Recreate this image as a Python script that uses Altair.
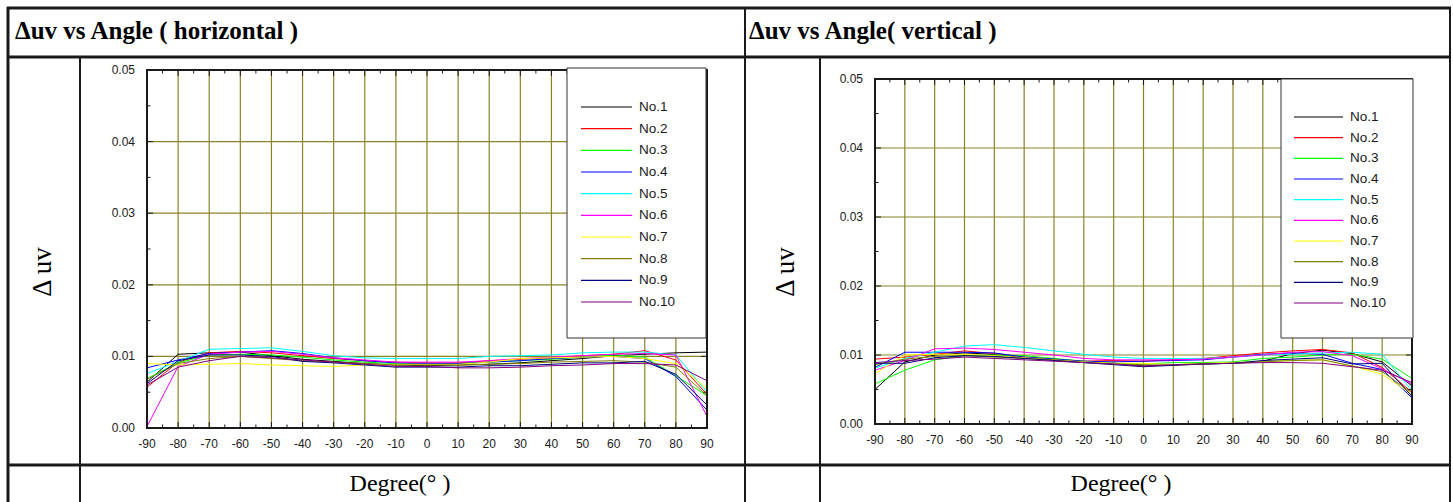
import altair as alt
import pandas as pd

# ---------------- data ----------------
angles = list(range(-90, 91, 10))
minor_angles = list(range(-85, 90, 10))
series_names = ["No.1", "No.2", "No.3", "No.4", "No.5",
                "No.6", "No.7", "No.8", "No.9", "No.10"]
series_colors = ["#000000", "#ff0000", "#00ff00", "#0000ff", "#00ffff",
                 "#ff00ff", "#ffff00", "#808000", "#000080", "#800080"]
y_tick_labels = [0.0, 0.01, 0.02, 0.03, 0.04, 0.05]
y_grid_values = [0.01, 0.02, 0.03, 0.04]
minor_duv = [0.005, 0.015, 0.025, 0.035, 0.045]

# horizontal panel (angles -90 .. 90 step 10)
h_no1 = [0.0064, 0.0103, 0.0105, 0.0106, 0.0101, 0.0096, 0.0093, 0.0090, 0.0088, 0.0087, 0.0088, 0.0089, 0.0091, 0.0094, 0.0097, 0.0101, 0.0103, 0.0105, 0.0106]
h_no2 = [0.0057, 0.0092, 0.0105, 0.0107, 0.0105, 0.0101, 0.0097, 0.0094, 0.0092, 0.0091, 0.0091, 0.0094, 0.0096, 0.0098, 0.0101, 0.0103, 0.0108, 0.0095, 0.0047]
h_no3 = [0.0069, 0.0091, 0.0102, 0.0103, 0.0102, 0.0099, 0.0095, 0.0092, 0.0090, 0.0090, 0.0090, 0.0092, 0.0094, 0.0096, 0.0099, 0.0102, 0.0099, 0.0073, 0.0045]
h_no4 = [0.0084, 0.0095, 0.0104, 0.0106, 0.0108, 0.0104, 0.0098, 0.0094, 0.0091, 0.0090, 0.0090, 0.0092, 0.0094, 0.0097, 0.0099, 0.0100, 0.0097, 0.0072, 0.0025]
h_no5 = [0.0076, 0.0093, 0.0110, 0.0111, 0.0112, 0.0107, 0.0101, 0.0098, 0.0097, 0.0097, 0.0097, 0.0100, 0.0101, 0.0102, 0.0105, 0.0106, 0.0106, 0.0102, 0.0050]
h_no6 = [0.0002, 0.0086, 0.0103, 0.0106, 0.0107, 0.0103, 0.0098, 0.0095, 0.0092, 0.0092, 0.0092, 0.0094, 0.0097, 0.0099, 0.0101, 0.0103, 0.0104, 0.0102, 0.0016]
h_no7 = [0.0090, 0.0088, 0.0089, 0.0090, 0.0088, 0.0087, 0.0086, 0.0088, 0.0089, 0.0089, 0.0089, 0.0092, 0.0097, 0.0098, 0.0099, 0.0100, 0.0097, 0.0090, 0.0055]
h_no8 = [0.0068, 0.0090, 0.0097, 0.0100, 0.0097, 0.0094, 0.0092, 0.0090, 0.0088, 0.0088, 0.0088, 0.0089, 0.0090, 0.0092, 0.0093, 0.0094, 0.0092, 0.0085, 0.0045]
h_no9 = [0.0062, 0.0094, 0.0102, 0.0102, 0.0100, 0.0093, 0.0091, 0.0088, 0.0085, 0.0085, 0.0085, 0.0087, 0.0087, 0.0089, 0.0091, 0.0091, 0.0093, 0.0075, 0.0032]
h_no10 = [0.0060, 0.0085, 0.0094, 0.0100, 0.0098, 0.0095, 0.0092, 0.0089, 0.0086, 0.0086, 0.0084, 0.0084, 0.0085, 0.0087, 0.0088, 0.0090, 0.0090, 0.0088, 0.0066]

# vertical panel
v_no1 = [0.0050, 0.0090, 0.0100, 0.0103, 0.0101, 0.0096, 0.0094, 0.0090, 0.0088, 0.0084, 0.0086, 0.0087, 0.0088, 0.0091, 0.0102, 0.0107, 0.0102, 0.0090, 0.0055]
v_no2 = [0.0094, 0.0097, 0.0101, 0.0106, 0.0102, 0.0097, 0.0094, 0.0091, 0.0092, 0.0091, 0.0093, 0.0095, 0.0099, 0.0103, 0.0106, 0.0108, 0.0103, 0.0082, 0.0046]
v_no3 = [0.0058, 0.0078, 0.0093, 0.0099, 0.0100, 0.0099, 0.0095, 0.0091, 0.0088, 0.0087, 0.0089, 0.0089, 0.0090, 0.0095, 0.0097, 0.0100, 0.0101, 0.0094, 0.0066]
v_no4 = [0.0082, 0.0104, 0.0104, 0.0104, 0.0103, 0.0097, 0.0094, 0.0091, 0.0090, 0.0091, 0.0092, 0.0093, 0.0097, 0.0101, 0.0103, 0.0101, 0.0088, 0.0079, 0.0038]
v_no5 = [0.0081, 0.0095, 0.0104, 0.0113, 0.0115, 0.0111, 0.0106, 0.0101, 0.0097, 0.0095, 0.0095, 0.0095, 0.0097, 0.0100, 0.0101, 0.0103, 0.0104, 0.0101, 0.0048]
v_no6 = [0.0078, 0.0092, 0.0109, 0.0110, 0.0108, 0.0104, 0.0100, 0.0095, 0.0093, 0.0093, 0.0093, 0.0094, 0.0097, 0.0100, 0.0104, 0.0105, 0.0099, 0.0080, 0.0058]
v_no7 = [0.0073, 0.0100, 0.0101, 0.0101, 0.0099, 0.0096, 0.0093, 0.0090, 0.0088, 0.0088, 0.0086, 0.0088, 0.0089, 0.0091, 0.0092, 0.0093, 0.0084, 0.0072, 0.0043]
v_no8 = [0.0086, 0.0094, 0.0098, 0.0099, 0.0097, 0.0095, 0.0093, 0.0089, 0.0087, 0.0086, 0.0085, 0.0087, 0.0088, 0.0090, 0.0092, 0.0093, 0.0084, 0.0076, 0.0045]
v_no9 = [0.0088, 0.0088, 0.0096, 0.0099, 0.0098, 0.0095, 0.0092, 0.0089, 0.0086, 0.0083, 0.0085, 0.0087, 0.0088, 0.0092, 0.0094, 0.0096, 0.0087, 0.0088, 0.0040]
v_no10 = [0.0089, 0.0092, 0.0094, 0.0097, 0.0095, 0.0093, 0.0091, 0.0089, 0.0087, 0.0084, 0.0086, 0.0087, 0.0088, 0.0089, 0.0089, 0.0088, 0.0083, 0.0078, 0.0060]

horizontal_series = [h_no1, h_no2, h_no3, h_no4, h_no5, h_no6, h_no7, h_no8, h_no9, h_no10]
vertical_series = [v_no1, v_no2, v_no3, v_no4, v_no5, v_no6, v_no7, v_no8, v_no9, v_no10]

title_left = "Δuv vs Angle ( horizontal )"
title_right = "Δuv vs Angle( vertical )"
y_label = "Δ uv"
x_label = "Degree(°  )"

# ---------------- styling / layout ----------------
W, H = 1453, 502
SERIF = "Liberation Serif"
SANS = "Liberation Sans"
GRID = "#8a8426"
INK = "#1a1a1a"

one = pd.DataFrame({"k": [0]})
color_scale = alt.Scale(domain=series_names, range=series_colors)


def hline(y, x1, x2, w):
    return alt.Chart(one).mark_rule(color=INK, strokeWidth=w).encode(
        x=alt.value(x1), x2=alt.value(x2), y=alt.value(y))


def vline(x, y1, y2, w):
    return alt.Chart(one).mark_rule(color=INK, strokeWidth=w).encode(
        x=alt.value(x), y=alt.value(y1), y2=alt.value(y2))


def label(text, x, y, size, weight="normal", align="left", angle=0):
    return alt.Chart(one).mark_text(
        text=text, font=SERIF, fontSize=size, fontWeight=weight,
        align=align, baseline="middle", angle=angle, color="#000"
    ).encode(x=alt.value(x), y=alt.value(y))


def panel(series_lists, xr, yr):
    rows = [{"angle": a, "duv": v, "series": n}
            for n, vals in zip(series_names, series_lists)
            for a, v in zip(angles, vals)]
    df = pd.DataFrame(rows)
    xs = alt.Scale(domain=[-90, 90], range=list(xr), nice=False, zero=False)
    ys = alt.Scale(domain=[0, 0.05], range=list(yr), nice=False, zero=False)
    deg_px = (xr[1] - xr[0]) / 180.0
    val_px = (yr[0] - yr[1]) / 0.05

    def X(f):
        return alt.X(f, type="quantitative", scale=xs, axis=None)

    def Y(f):
        return alt.Y(f, type="quantitative", scale=ys, axis=None)

    vg = pd.DataFrame({"angle": angles[1:-1]})
    vg["lo"] = 0.0
    vg["hi"] = 0.05
    vgrid = alt.Chart(vg).mark_rule(color=GRID, strokeWidth=1.2).encode(
        x=X("angle"), y=Y("lo"), y2="hi")

    hg = pd.DataFrame({"duv": y_grid_values})
    hg["lo"] = -90
    hg["hi"] = 90
    hgrid = alt.Chart(hg).mark_rule(color=GRID, strokeWidth=1.2).encode(
        x=X("lo"), x2="hi", y=Y("duv"))

    major, minor = 6.0, 3.5
    xt = []
    for a in angles:
        xt.append((a, 0.0, major / val_px))
        xt.append((a, 0.05, 0.05 - major / val_px))
    for a in minor_angles:
        xt.append((a, 0.0, minor / val_px))
        xt.append((a, 0.05, 0.05 - minor / val_px))
    xt_df = pd.DataFrame(xt, columns=["angle", "lo", "hi"])
    xticks = alt.Chart(xt_df).mark_rule(color=INK, strokeWidth=1).encode(
        x=X("angle"), y=Y("lo"), y2="hi")

    yt = []
    for d in y_tick_labels:
        yt.append((d, -90.0, -90.0 + major / deg_px))
        yt.append((d, 90.0, 90.0 - major / deg_px))
    for d in minor_duv:
        yt.append((d, -90.0, -90.0 + minor / deg_px))
        yt.append((d, 90.0, 90.0 - minor / deg_px))
    yt_df = pd.DataFrame(yt, columns=["duv", "lo", "hi"])
    yticks = alt.Chart(yt_df).mark_rule(color=INK, strokeWidth=1).encode(
        x=X("lo"), x2="hi", y=Y("duv"))

    fr = pd.DataFrame({"x0": [-90], "x1": [90], "y0": [0.0], "y1": [0.05]})
    frame = alt.Chart(fr).mark_rect(fillOpacity=0, stroke=INK, strokeWidth=2).encode(
        x=X("x0"), x2="x1", y=Y("y0"), y2="y1")

    # tick labels, placed through the scales
    xl = pd.DataFrame({"angle": angles, "lbl": [str(a) for a in angles]})
    xl["lo"] = 0.0
    xlabels = alt.Chart(xl).mark_text(font=SANS, fontSize=12, color=INK,
                                      baseline="middle", dy=16).encode(
        x=X("angle"), y=Y("lo"), text="lbl:N")
    yl = pd.DataFrame({"duv": y_tick_labels,
                       "lbl": [f"{d:.2f}" for d in y_tick_labels]})
    yl["lo"] = -90.0
    ylabels = alt.Chart(yl).mark_text(font=SANS, fontSize=12, color=INK,
                                      align="right", baseline="middle", dx=-12).encode(
        x=X("lo"), y=Y("duv"), text="lbl:N")

    lines = alt.Chart(df).mark_line(strokeWidth=1).encode(
        x=X("angle"),
        y=Y("duv"),
        color=alt.Color("series:N", scale=color_scale, legend=None),
    )
    return alt.layer(vgrid, hgrid, lines, xticks, yticks, frame, xlabels, ylabels)


def legend(box, sw, lab_x, rows_y):
    ldf = pd.DataFrame({"series": series_names})
    ys = alt.Scale(type="point", domain=series_names, range=list(rows_y), padding=0)
    bx = alt.Chart(one).mark_rect(fill="white", stroke="#333", strokeWidth=1).encode(
        x=alt.value(box[0]), x2=alt.value(box[1]), y=alt.value(box[2]), y2=alt.value(box[3]))
    swatch = alt.Chart(ldf).mark_rule(strokeWidth=1.2).encode(
        x=alt.value(sw[0]), x2=alt.value(sw[1]),
        y=alt.Y("series:N", scale=ys, axis=None),
        color=alt.Color("series:N", scale=color_scale, legend=None))
    text = alt.Chart(ldf).mark_text(align="left", baseline="middle", font=SANS,
                                    fontSize=13.5, color=INK).encode(
        x=alt.value(lab_x), y=alt.Y("series:N", scale=ys, axis=None), text="series:N")
    return alt.layer(bx, swatch, text)


decor = [
    hline(8, 7, 1451, 3),
    hline(57, 7, 1451, 3),
    hline(465, 7, 1451, 3),
    vline(8, 7, 502, 3),
    vline(1450, 7, 502, 2),
    vline(745, 7, 502, 2),
    vline(80, 57, 502, 2),
    vline(820, 57, 502, 2),
    label(title_left, 15, 31, 25, weight="bold"),
    label(title_right, 749, 31, 25, weight="bold"),
    label(y_label, 43, 272, 27, align="center", angle=270),
    label(y_label, 786, 272, 27, align="center", angle=270),
    label(x_label, 400, 484, 24, align="center"),
    label(x_label, 1121, 484, 24, align="center"),
]

left_panel = panel(horizontal_series, (147, 707), (428, 70))
right_panel = panel(vertical_series, (875, 1412), (424, 79))
left_legend = legend((567, 706, 68, 338), (581, 632), 639, (107, 302))
right_legend = legend((1281, 1413, 79, 338), (1294, 1343), 1350, (117, 303))

chart = alt.layer(
    *decor, left_panel, left_legend, right_panel, right_legend
).resolve_scale(
    x="independent", y="independent"
).properties(
    width=W, height=H, padding=0,
    autosize=alt.AutoSizeParams(type="none"),
    background="white",
).configure_view(stroke=None)

chart.save("out.html", embed_options={"renderer": "svg", "actions": False})
